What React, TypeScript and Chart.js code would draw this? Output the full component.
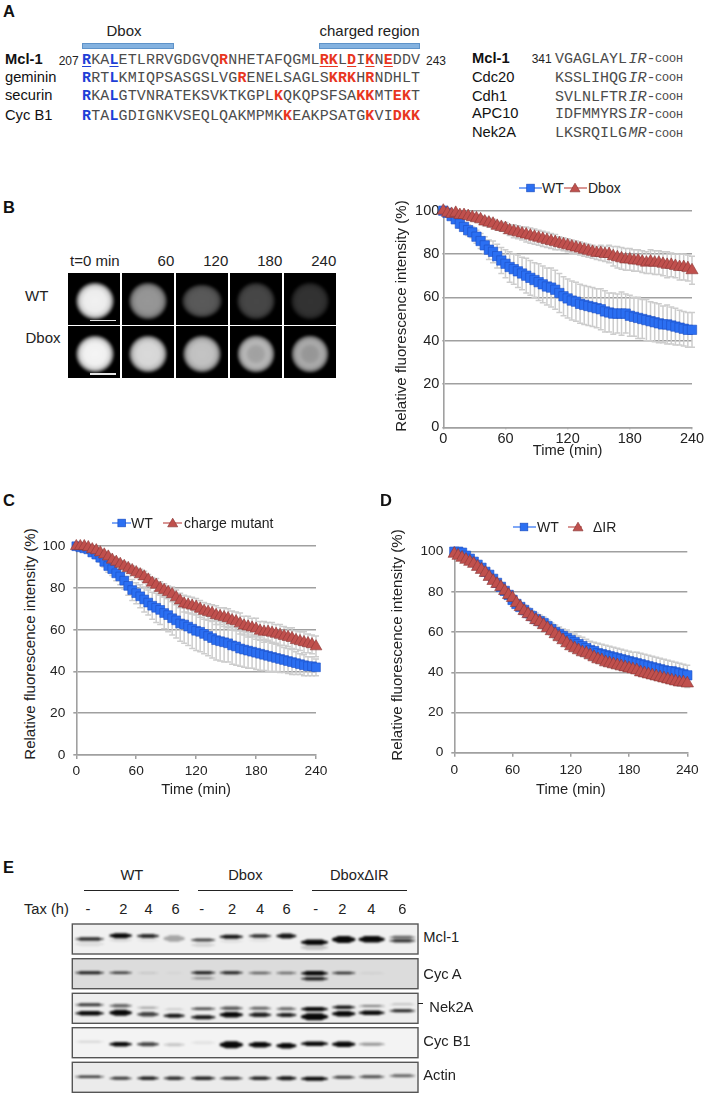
import React, { useEffect, useRef } from "react";
import { Chart, registerables } from "chart.js";

Chart.register(...registerables);

// ---------- time-course data (minutes, percent) ----------
const timeMin = [
  0, 4, 8, 12, 16, 20, 24, 28, 32, 36, 40, 44, 48, 52, 56, 60, 64, 68, 72, 76,
  80, 84, 88, 92, 96, 100, 104, 108, 112, 116, 120, 124, 128, 132, 136, 140, 144, 148, 152, 156,
  160, 164, 168, 172, 176, 180, 184, 188, 192, 196, 200, 204, 208, 212, 216, 220, 224, 228, 232, 236, 240,
];
const xTickValues = [0, 60, 120, 180, 240];
const yTickValues = [0, 20, 40, 60, 80, 100];

const bWT = [
  100, 99, 97.5, 96, 94, 92.5, 91, 90, 88, 86,
  84, 82, 81, 79, 77, 75.5, 74, 73, 72, 71,
  70, 69, 68, 67, 66, 65, 64.5, 63.5, 62, 60.5,
  59.5, 58.5, 58, 57, 56.5, 56, 55.5, 55, 54.5, 53.5,
  53, 52.5, 52.5, 52.5, 52.5, 51.5, 51, 50.5, 50, 49.5,
  49, 48.5, 48, 47.5, 47.5, 47, 46.5, 46, 45.5, 45,
  45,
];
const bWTErr = [
  0, 1, 1, 1.5, 2, 2, 2.5, 2.5, 3, 3.5,
  4, 4.5, 5, 5.5, 6, 6.5, 7, 7, 7.5, 7.5,
  8, 8, 8, 8.5, 8.5, 8.5, 9, 9, 9, 9,
  9, 9, 9, 9, 9, 9, 9, 9, 9.5, 9.5,
  9, 9.5, 9, 10, 9, 9.5, 9, 9.5, 9, 9.5,
  9, 9, 9, 8.5, 9, 8.5, 8.5, 8, 8, 8,
  8,
];
const bDbox = [
  100, 99, 98.5, 99, 98, 98, 97.5, 97, 96.5, 96,
  95, 94.5, 94, 93, 92.5, 92, 91, 90.5, 90, 89.5,
  89, 88.5, 88, 87.5, 87, 86.5, 86, 85.5, 85, 84.5,
  84, 83.5, 83, 82.5, 82, 81.5, 81, 80.5, 80.5, 80,
  80, 79, 78.5, 78, 77.5, 77.5, 77, 77, 76.5, 76,
  76.5, 76, 76, 75.5, 75, 75, 74.5, 74, 74, 73.5,
  72.5,
];
const bDboxErr = [
  0, 0.5, 1, 1, 1, 1, 1.5, 1.5, 1.5, 1.5,
  2, 2, 2, 2, 2, 2.5, 2.5, 3, 3, 3,
  3.5, 3.5, 3.5, 3.5, 3.5, 3.5, 3.5, 3.5, 3, 3,
  3, 3, 3, 3, 3, 3, 3, 3, 3.5, 3.5,
  4, 4.5, 5, 5, 5, 5, 5, 5, 5, 5,
  5.5, 5.5, 5.5, 5.5, 6, 5.5, 5.5, 6, 6, 6,
  6.5,
];
const cWT = [
  100, 99.5, 99, 98.5, 97, 96, 94.5, 92.5, 90.5, 89,
  87, 85.5, 83.5, 81, 79, 77.5, 76, 74.5, 73, 71.5,
  70.5, 69.5, 68, 67, 65.5, 64.5, 63, 62.5, 61.5, 60.5,
  59.5, 59, 58, 57, 56, 55, 54.5, 54, 53.5, 52.5,
  52, 51, 50.5, 50, 49.5, 49, 48.5, 48, 47.5, 47,
  46.5, 46, 45.5, 45, 44.5, 44, 43.5, 43, 42.5, 42.5,
  42,
];
const cWTErr = [
  0, 0.5, 1, 1, 1.5, 2, 2, 2.5, 3, 3,
  3.5, 4, 4, 4.5, 5, 5, 5.5, 6, 6, 6.5,
  7, 7, 7.5, 8, 8, 8.5, 8.5, 9, 9, 9.5,
  9.5, 9.5, 9.5, 9.5, 9.5, 9.5, 9.5, 9.5, 9, 9,
  9, 8.5, 8.5, 8.5, 8, 8, 8, 7.5, 7.5, 7,
  6.5, 6.5, 6, 6, 6, 5.5, 5, 5, 4.5, 4.5,
  4,
];
const cCharge = [
  100, 100, 100, 99.5, 98.5, 98, 97, 96, 95, 93.5,
  92.5, 91.5, 90.5, 89.5, 88.5, 87.5, 86.5, 85.5, 84, 82.5,
  81.5, 80, 79, 78, 77, 75.5, 74, 72.5, 72, 71.5,
  71, 70, 69, 68.5, 68, 67, 66.5, 66, 65.5, 64.5,
  64, 63, 62, 61.5, 61, 60.5, 59.5, 59, 59, 58.5,
  58, 57.5, 57, 56.5, 56, 55, 54.5, 54, 53.5, 53,
  52,
];
const cChargeErr = [
  0, 0.5, 0.5, 1, 1, 1, 1, 1, 1.5, 1.5,
  1.5, 1.5, 2, 2, 2, 2, 2.5, 2.5, 2.5, 2.5,
  3, 3, 3, 3, 3.5, 3.5, 3.5, 4, 4, 4,
  4, 4, 4, 4, 4, 4.5, 4, 4.5, 4.5, 4.5,
  4.5, 5, 4.5, 5, 4.5, 5, 4.5, 5, 4.5, 5,
  4.5, 5, 4.5, 4.5, 5, 4.5, 4.5, 5, 4.5, 4.5,
  5,
];
const dWT = [
  100, 100, 99.5, 98, 96.5, 95, 93.5, 92, 90, 88.5,
  86.5, 84.5, 82.5, 80.5, 78.5, 76, 74, 72.5, 71, 69.5,
  68, 66.5, 65.5, 64.5, 63, 61.5, 60, 59, 58, 57,
  56, 55, 54, 53, 52, 51, 50.5, 49.5, 49, 48.5,
  48, 47.5, 47, 46.5, 46, 45.5, 45, 44.5, 44, 43.5,
  43, 42.5, 42, 41.5, 41, 40.5, 40.5, 40, 39.5, 39,
  38.5,
];
const dWTErr = [
  0, 0.5, 0.5, 1, 1, 1, 1, 1.5, 1.5, 1.5,
  1.5, 1.5, 2, 2, 2, 2, 2, 2, 2.5, 2.5,
  2.5, 3, 3, 3, 3, 3, 3.5, 3.5, 3.5, 4,
  4, 4, 4, 4.5, 4.5, 4.5, 4.5, 5, 5, 5,
  5, 5, 5, 5, 5, 5, 5, 5.5, 5.5, 5.5,
  5.5, 5.5, 5.5, 5.5, 5.5, 5.5, 5, 5, 5, 5,
  5,
];
const dIR = [
  99, 98, 97, 96, 95, 94, 92.5, 91, 89.5, 87.5,
  85.5, 84, 82.5, 80.5, 78.5, 77, 74.5, 72.5, 70.5, 69,
  67.5, 66, 65, 63.5, 62, 60.5, 59, 57.5, 56, 54.5,
  53, 52, 51, 50, 49.5, 48.5, 47.5, 46.5, 46, 45,
  44.5, 44, 43.5, 43, 42.5, 42, 41.5, 41, 40, 39.5,
  39, 38.5, 38, 37.5, 37, 36.5, 36, 35.5, 35, 35,
  34.5,
];
const dIRErr = [
  0, 0.5, 0.5, 0.5, 1, 1, 1, 1, 1, 1,
  1, 1, 1.5, 1.5, 1.5, 1.5, 1.5, 1.5, 1.5, 1.5,
  1.5, 1.5, 1.5, 1.5, 1.5, 2, 2, 2, 2, 2,
  2, 2, 2, 2, 2, 2, 2, 2, 2, 2,
  2, 2, 2, 2, 2, 2, 2, 2, 2, 2,
  2, 2, 2, 2, 2, 2, 2, 2, 2, 2,
  2,
];

// ---------- sequences ----------
const dboxRows = [
  { name: "Mcl-1", bold: true, seq: "RKALETLRRVGDGVQRNHETAFQGMLRKLDIKNEDDV", blue: [0, 3], red: [15, 26, 27, 29, 31, 33], under: [0, 3, 26, 27, 29, 31, 33] },
  { name: "geminin", bold: false, seq: "RRTLKMIQPSASGSLVGRENELSAGLSKRKHRNDHLT", blue: [0, 3], red: [17, 27, 28, 29, 31], under: [] },
  { name: "securin", bold: false, seq: "RKALGTVNRATEKSVKTKGPLKQKQPSFSAKKMTEKT", blue: [0, 3], red: [21, 30, 31, 34, 35], under: [] },
  { name: "Cyc B1", bold: false, seq: "RTALGDIGNKVSEQLQAKMPMKKEAKPSATGKVIDKK", blue: [0, 3], red: [22, 31, 34, 35, 36], under: [] },
];
const irRows = [
  { name: "Mcl-1", bold: true, seq: "VGAGLAYL", tail: "IR" },
  { name: "Cdc20", bold: false, seq: "KSSLIHQG", tail: "IR" },
  { name: "Cdh1", bold: false, seq: "SVLNLFTR", tail: "IR" },
  { name: "APC10", bold: false, seq: "IDFMMYRS", tail: "IR" },
  { name: "Nek2A", bold: false, seq: "LKSRQILG", tail: "MR" },
];

// ---------- microscopy panel ----------
const frameLabels = ["t=0 min", "60", "120", "180", "240"];
const wtFrames = [236, 148, 88, 70, 50];
const dboxFrames = [240, 214, 192, 172, 160];

// ---------- western blot: bands per lane as [migration, thickness, density] ----------
const laneStart = [75, 109, 136.7, 163.3, 190.7, 219.3, 248.3, 276, 300.7, 331.7, 358.3, 389];
const laneEnd = [104.3, 132.3, 159.3, 185, 215.7, 243.3, 271.7, 296.7, 328.3, 355.7, 385, 415.7];
type Band = [number, number, number];
const mcl1Bands: Band[][] = [
  [[15, 3, 0.85], [20, 4, 0.08]], [[11.7, 4.5, 1], [16, 3, 0.1]], [[12, 3.5, 0.85], [16, 3, 0.06]], [[14.5, 6, 0.32]],
  [[16, 2.8, 0.75], [21, 3, 0.12]], [[12.7, 3.5, 0.95], [17, 3, 0.07]], [[12, 3, 0.85], [16, 3, 0.06]], [[12, 4.5, 0.95]],
  [[18.3, 5, 1], [23.5, 4, 0.2]], [[15.5, 6.5, 1]], [[15.3, 6, 1]], [[13.3, 2.5, 0.6], [16.8, 3, 0.8]],
];
const cycABands: Band[][] = [
  [[14, 2.5, 0.9]], [[14, 2, 0.78]], [[14.3, 1.5, 0.1]], [[14.3, 1, 0.05]],
  [[14, 2.5, 0.95], [19.5, 1.5, 0.42]], [[14, 2.5, 0.9]], [[14.3, 2, 0.6]], [[14.3, 2, 0.55]],
  [[14.6, 4, 1], [20, 3, 0.9]], [[14.3, 2, 0.85]], [[14.5, 1, 0.08]], [],
];
const nek2ABands: Band[][] = [
  [[11.5, 2.5, 0.8], [20, 4, 1]], [[12.5, 3, 0.6], [19.5, 5.5, 1]], [[14.5, 1.5, 0.35], [21, 4, 0.75]], [[16, 1, 0.2], [22.5, 3.5, 0.95]],
  [[15.5, 2, 0.75], [24, 3.5, 0.95]], [[15, 3, 0.65], [21.5, 5, 1]], [[15, 2.5, 0.6], [21.5, 4, 0.9]], [[15.5, 2.5, 0.6], [21.7, 3.5, 0.9]],
  [[15.8, 4, 1], [23.5, 6.5, 1]], [[14, 3, 0.95], [20.5, 5, 1]], [[12.7, 1.5, 0.5], [19.5, 4, 1]], [[11, 1, 0.25], [17.5, 2.5, 0.9]],
];
const cycB1Bands: Band[][] = [
  [[14, 1.5, 0.12]], [[16.5, 4, 1]], [[16.5, 3.5, 0.75]], [[17, 2.5, 0.2]],
  [[15, 2.5, 0.07]], [[17, 6.5, 1]], [[17, 5, 1]], [[18, 5, 1]],
  [[16, 4, 1]], [[16.5, 5, 1]], [[16.5, 2.5, 0.4]], [],
];
const actinBands: Band[][] = [
  [[14.5, 2, 0.8]], [[16, 2.5, 0.8]], [[16, 3, 0.9]], [[16, 3, 0.85]],
  [[16, 3, 0.9]], [[16, 2.5, 0.85]], [[16, 3, 0.9]], [[16, 3.5, 0.95]],
  [[16.5, 3.5, 1]], [[15, 2.5, 0.75]], [[14.5, 2.5, 0.7]], [[13.5, 2.5, 0.6]],
];
const blotNames = ["Mcl-1", "Cyc A", "Nek2A", "Cyc B1", "Actin"];
const blotBands = [mcl1Bands, cycABands, nek2ABands, cycB1Bands, actinBands];
const blotTops = [924, 958.7, 993.3, 1027.7, 1062.3];
const blotShades = ["#f0f0f0", "#dcdcdc", "#eeeeee", "#f3f3f3", "#ebebeb"];
const blotLabelX = [423.3, 423.3, 429.3, 423.3, 423.3];
const blotLabelBase = [942.7, 979, 1012.7, 1046.7, 1080.7];
const taxLabels = ["-", "2", "4", "6", "-", "2", "4", "6", "-", "2", "4", "6"];
const taxCentres = [88, 123.3, 148.7, 175.7, 201.7, 232, 260, 286.7, 315.7, 342.3, 371.3, 402.3];
const groupLabels = ["WT", "Dbox", "DboxΔIR"];
const groupStart = [84, 198, 312];
const groupEnd = [178.7, 292.7, 406.7];

// ---------- styling ----------
const SANS = '"Liberation Sans", Arial, sans-serif';
const MONO = '"Liberation Mono", "Courier New", monospace';
const BLUE = "#2b6ff2";
const BLUE_EDGE = "#1c4fc4";
const RED = "#c0504d";
const RED_EDGE = "#8c3836";
const GRID = "#a0a0a0";
const TEXT = "#222222";

const errorBars = {
  id: "errorBars",
  beforeDatasetsDraw(chart: any) {
    const { ctx, scales } = chart;
    ctx.save();
    ctx.strokeStyle = "#cdcdcd";
    ctx.lineWidth = 1.5;
    chart.data.datasets.forEach((ds: any) => {
      ds.data.forEach((p: any, i: number) => {
        const e = ds.err[i];
        if (!e) return;
        const x = scales.x.getPixelForValue(p.x);
        const hi = scales.y.getPixelForValue(p.y + e);
        const lo = scales.y.getPixelForValue(p.y - e);
        ctx.beginPath();
        ctx.moveTo(x, hi);
        ctx.lineTo(x, lo);
        ctx.moveTo(x - 3, hi);
        ctx.lineTo(x + 3, hi);
        ctx.moveTo(x - 3, lo);
        ctx.lineTo(x + 3, lo);
        ctx.stroke();
      });
    });
    ctx.restore();
  },
};

const blotPlugin = {
  id: "blotPlugin",
  beforeDatasetsDraw(chart: any) {
    const { ctx, scales } = chart;
    const sx = scales.x;
    const sy = scales.y;
    chart.data.datasets.forEach((ds: any) => {
      const left = sx.getPixelForValue(72.3);
      const right = sx.getPixelForValue(418);
      const top = sy.getPixelForValue(ds.rowTop);
      const bottom = sy.getPixelForValue(ds.rowTop + 30);
      ctx.save();
      ctx.fillStyle = ds.shade;
      ctx.fillRect(left, top, right - left, bottom - top);
      ctx.beginPath();
      ctx.rect(left, top, right - left, bottom - top);
      ctx.clip();
      ctx.filter = "blur(0.9px)";
      ds.data.forEach((b: any) => {
        const x0 = sx.getPixelForValue(b.x);
        const x1 = sx.getPixelForValue(b.x1);
        const h = b.t;
        const yc = sy.getPixelForValue(b.y);
        ctx.fillStyle = `rgba(8,8,8,${b.a})`;
        ctx.beginPath();
        ctx.ellipse((x0 + x1) / 2, yc, (x1 - x0) / 2, h / 2, 0, 0, Math.PI * 2);
        ctx.closePath();
        ctx.roundRect(x0 + 4, yc - h / 2 - 0.2, x1 - x0 - 8, h + 0.4, h / 2);
        ctx.fill();
      });
      ctx.restore();
      ctx.save();
      ctx.strokeStyle = "#555555";
      ctx.lineWidth = 1.4;
      ctx.strokeRect(left, top, right - left, bottom - top);
      ctx.restore();
    });
  },
};

type ChartSpec = {
  left: number; top: number; width: number; height: number;
  areaLeft: number; areaTop: number; areaRight: number; areaBottom: number;
  s1: { label: string; values: number[]; err: number[] };
  s2: { label: string; values: number[]; err: number[] };
  yTick: number; yPad: number; xTick: number; xPad: number; triR: number; sqR: number; tickSize: number;
};

function CurveChart({ spec }: { spec: ChartSpec }) {
  const ref = useRef<HTMLCanvasElement | null>(null);
  useEffect(() => {
    const toPts = (v: number[]) => v.map((y, i) => ({ x: timeMin[i], y }));
    const chart = new Chart(ref.current as HTMLCanvasElement, {
      type: "line",
      data: {
        datasets: [
          {
            label: spec.s1.label, data: toPts(spec.s1.values), err: spec.s1.err, order: 1,
            borderColor: BLUE, backgroundColor: BLUE, borderWidth: 1,
            pointStyle: "rect", pointRadius: spec.sqR, pointBackgroundColor: BLUE, pointBorderColor: BLUE_EDGE, pointBorderWidth: 0.6,
            clip: false,
          },
          {
            label: spec.s2.label, data: toPts(spec.s2.values), err: spec.s2.err, order: 0,
            borderColor: RED, backgroundColor: RED, borderWidth: 1,
            pointStyle: "triangle", pointRadius: spec.triR, pointBackgroundColor: RED, pointBorderColor: RED_EDGE, pointBorderWidth: 0.6,
            clip: false,
          },
        ] as any,
      },
      options: {
        animation: false, responsive: false,
        layout: { padding: { left: 0, top: spec.areaTop - spec.top, right: spec.left + spec.width - spec.areaRight, bottom: 0 } },
        plugins: { legend: { display: false }, tooltip: { enabled: false }, title: { display: false } },
        scales: {
          x: {
            type: "linear", min: 0, max: 240,
            afterBuildTicks: (s: any) => { s.ticks = xTickValues.map((value) => ({ value })); },
            afterFit: (s: any) => { s.height = spec.top + spec.height - spec.areaBottom; },
            grid: { drawOnChartArea: false, drawTicks: true, tickLength: spec.xTick, color: GRID, lineWidth: 1.5 },
            border: { display: true, color: GRID, width: 1.6 },
            ticks: { maxRotation: 0, padding: spec.xPad, color: TEXT, font: { family: SANS, size: spec.tickSize } },
            title: { display: true, text: "Time (min)", color: TEXT, padding: 0, font: { family: SANS, size: 14.7, lineHeight: 1.2 } },
          },
          y: {
            type: "linear", min: 0, max: 100,
            afterBuildTicks: (s: any) => { s.ticks = yTickValues.map((value) => ({ value })); },
            afterFit: (s: any) => { s.width = spec.areaLeft - spec.left; },
            grid: { drawOnChartArea: true, drawTicks: true, tickLength: spec.yTick, color: GRID, lineWidth: 1.6 },
            border: { display: true, color: GRID, width: 1.6 },
            ticks: { padding: spec.yPad, color: TEXT, font: { family: SANS, size: spec.tickSize } },
          },
        },
      } as any,
      plugins: [errorBars],
    });
    return () => chart.destroy();
  }, [spec]);
  return (
    <canvas
      ref={ref}
      width={spec.width}
      height={spec.height}
      style={{ position: "absolute", left: spec.left, top: spec.top, width: spec.width, height: spec.height }}
    />
  );
}

function BlotChart() {
  const ref = useRef<HTMLCanvasElement | null>(null);
  useEffect(() => {
    const datasets = blotBands.map((lanes, row) => ({
      label: blotNames[row],
      rowTop: blotTops[row],
      shade: blotShades[row],
      pointRadius: 0,
      showLine: false,
      data: lanes.flatMap((bands, lane) =>
        bands.map(([m, t, a]) => ({ x: laneStart[lane], x1: laneEnd[lane], y: blotTops[row] + m, t, a }))
      ),
    }));
    const chart = new Chart(ref.current as HTMLCanvasElement, {
      type: "scatter",
      data: { datasets } as any,
      options: {
        animation: false, responsive: false,
        layout: { padding: 0 },
        plugins: { legend: { display: false }, tooltip: { enabled: false } },
        scales: {
          x: { type: "linear", display: false, min: 70, max: 420 },
          y: { type: "linear", display: false, min: 922, max: 1093, reverse: true },
        },
      } as any,
      plugins: [blotPlugin],
    });
    return () => chart.destroy();
  }, []);
  return <canvas ref={ref} width={350} height={171} style={{ position: "absolute", left: 70, top: 922, width: 350, height: 171 }} />;
}

function T(props: { x: number; base: number; size: number; children: any; bold?: boolean; align?: "l" | "c" | "r"; color?: string; font?: string; italic?: boolean }) {
  const { x, base, size, bold, align = "l", color = TEXT, font = SANS, italic } = props;
  const asc = font === MONO ? 0.7665 : 0.8465;
  return (
    <div
      style={{
        position: "absolute", left: x, top: base - asc * size, fontFamily: font, fontSize: size, lineHeight: 1,
        fontWeight: bold ? 700 : 400, fontStyle: italic ? "italic" : "normal", color, whiteSpace: "pre",
        transform: align === "c" ? "translateX(-50%)" : align === "r" ? "translateX(-100%)" : undefined,
      }}
    >
      {props.children}
    </div>
  );
}

function YTitle({ x, y }: { x: number; y: number }) {
  return (
    <div
      style={{
        position: "absolute", left: x, top: y, fontFamily: SANS, fontSize: 15.1, lineHeight: 1, color: TEXT, whiteSpace: "pre",
        transform: "translate(-50%,-50%) rotate(-90deg)",
      }}
    >
      Relative fluorescence intensity (%)
    </div>
  );
}

function LegendKey({ x0, x1, mx, y, kind }: { x0: number; x1: number; mx: number; y: number; kind: "sq" | "tri" }) {
  return (
    <svg style={{ position: "absolute", left: 0, top: y - 8, overflow: "visible" }} width={1} height={16}>
      <line x1={x0} x2={x1} y1={8} y2={8} stroke={kind === "sq" ? BLUE : RED} strokeWidth={1.2} />
      {kind === "sq" ? (
        <rect x={mx - 3.8} y={4.2} width={7.6} height={7.6} fill={BLUE} stroke={BLUE_EDGE} strokeWidth={0.7} />
      ) : (
        <polygon points={`${mx - 5},11.8 ${mx + 5},11.8 ${mx},3.2`} fill={RED} stroke={RED_EDGE} strokeWidth={0.7} />
      )}
    </svg>
  );
}

function SeqLine({ row, x, base }: { row: (typeof dboxRows)[number]; x: number; base: number }) {
  return (
    <div style={{ position: "absolute", left: x, top: base - 0.7665 * 15, fontFamily: MONO, fontSize: 15, lineHeight: 1, letterSpacing: 0.13, whiteSpace: "pre", color: "#4c4c4c" }}>
      {row.seq.split("").map((c, i) => {
        const blue = row.blue.includes(i);
        const red = row.red.includes(i);
        return (
          <span
            key={i}
            style={{
              color: blue ? "#1f3fd6" : red ? "#e8361f" : undefined,
              fontWeight: blue || red ? 700 : 400,
              textDecoration: row.under.includes(i) ? "underline" : "none",
              textUnderlineOffset: 2,
            }}
          >
            {c}
          </span>
        );
      })}
    </div>
  );
}

function CellFrame({ left, top, level, row, col }: { left: number; top: number; level: number; row: number; col: number }) {
  const g = (k: number) => {
    const v = Math.min(255, Math.round(level * k));
    return `rgb(${v},${v},${v})`;
  };
  const ring = row === 1 && col >= 3;
  const wide = row === 0 && col === 2;
  const bg = ring
    ? `radial-gradient(ellipse 19.5px 19.5px at 50% 50%, ${g(0.93)} 0%, ${g(0.95)} 35%, ${g(1.07)} 58%, ${g(0.98)} 76%, ${g(0.55)} 90%, #000 100%)`
    : `radial-gradient(ellipse ${wide ? 21 : 20}px ${wide ? 17.5 : 19.5}px at 50% 50%, ${g(1.02)} 0%, ${g(1)} 55%, ${g(0.88)} 76%, ${g(0.45)} 90%, #000 100%)`;
  const shift = col === 0 ? 1 : 0;
  return (
    <div style={{ position: "absolute", left, top, width: 52, height: 52, background: "#000", overflow: "hidden" }}>
      <div style={{ position: "absolute", left: -6 + shift, top: -4, width: 64, height: 64, background: bg, filter: "blur(0.8px)" }} />
      {col === 0 ? <div style={{ position: "absolute", left: 22, top: 47, width: 26, height: 1.6, background: "#e6e6e6" }} /> : null}
    </div>
  );
}

const specB: ChartSpec = {
  left: 405, top: 198, width: 304, height: 262, areaLeft: 443.3, areaTop: 210.7, areaRight: 692, areaBottom: 427.3,
  s1: { label: "WT", values: bWT, err: bWTErr }, s2: { label: "Dbox", values: bDbox, err: bDboxErr },
  yTick: 1, yPad: 3, xTick: 2, xPad: 1, triR: 7, sqR: 6.6, tickSize: 14.5,
};
const specC: ChartSpec = {
  left: 40, top: 530, width: 300, height: 269, areaLeft: 76.3, areaTop: 546, areaRight: 316, areaBottom: 755,
  s1: { label: "WT", values: cWT, err: cWTErr }, s2: { label: "charge mutant", values: cCharge, err: cChargeErr },
  yTick: 3, yPad: 8, xTick: 4, xPad: 4, triR: 6.8, sqR: 6.2, tickSize: 13.7,
};
const specD: ChartSpec = {
  left: 415, top: 535, width: 294, height: 264, areaLeft: 454.3, areaTop: 551.7, areaRight: 687.3, areaBottom: 752.7,
  s1: { label: "WT", values: dWT, err: dWTErr }, s2: { label: "ΔIR", values: dIR, err: dIRErr },
  yTick: 3, yPad: 8, xTick: 4, xPad: 5, triR: 7.2, sqR: 6.6, tickSize: 13.7,
};

const cellCols = [68.3, 122.3, 176.3, 230.3, 284.3];
const seqBases = [64.7, 82.7, 100.7, 120];
const irBases = [63, 82, 101, 118.5, 137.5];

export default function App() {
  useEffect(() => {
    document.body.style.margin = "0";
    document.body.style.background = "#fff";
  }, []);
  return (
    <div style={{ position: "absolute", left: 0, top: 0, width: 709, height: 1093, overflow: "hidden", background: "#fff", filter: "blur(0.35px)" }}>
      {/* Panel A */}
      <T x={3} base={17} size={16.5} bold color="#111">A</T>
      <T x={124} base={36} size={15} align="c">Dbox</T>
      <T x={369.5} base={36} size={15} align="c">charged region</T>
      <div style={{ position: "absolute", left: 81.7, top: 42.7, width: 92, height: 6.6, boxSizing: "border-box", background: "#84b2e0", border: "1px solid #5f93c9" }} />
      <div style={{ position: "absolute", left: 319, top: 42.7, width: 101, height: 6.6, boxSizing: "border-box", background: "#84b2e0", border: "1px solid #5f93c9" }} />
      {dboxRows.map((r, i) => (
        <React.Fragment key={r.name}>
          <T x={5} base={seqBases[i]} size={14.7} bold={r.bold} color="#111">{r.name}</T>
          <SeqLine row={r} x={82} base={seqBases[i]} />
        </React.Fragment>
      ))}
      <T x={58.7} base={64.7} size={12}>207</T>
      <T x={426} base={64.7} size={12}>243</T>
      {irRows.map((r, i) => (
        <React.Fragment key={"ir" + r.name}>
          <T x={472} base={irBases[i]} size={14.7} bold={r.bold} color="#111">{r.name}</T>
          <T x={555} base={irBases[i]} size={15} font={MONO} color="#4c4c4c">{r.seq}</T>
          <T x={628.6} base={irBases[i]} size={15} font={MONO} color="#4c4c4c" italic>{r.tail}</T>
          <T x={646.5} base={irBases[i]} size={15} font={MONO} color="#4c4c4c">-</T>
          <T x={655} base={irBases[i]} size={11.7} font={MONO} color="#4c4c4c">COOH</T>
        </React.Fragment>
      ))}
      <T x={531.7} base={63} size={12}>341</T>

      {/* Panel B */}
      <T x={3} base={212.7} size={16.5} bold color="#111">B</T>
      {frameLabels.map((l, i) => (
        <T key={l} x={i === 0 ? 70 : cellCols[i] + 52} base={266} size={15} align={i === 0 ? "l" : "r"}>{l}</T>
      ))}
      <T x={25} base={301} size={15}>WT</T>
      <T x={25.5} base={343} size={15}>Dbox</T>
      {wtFrames.map((v, i) => <CellFrame key={"w" + i} left={cellCols[i]} top={272.7} level={v} row={0} col={i} />)}
      {dboxFrames.map((v, i) => <CellFrame key={"d" + i} left={cellCols[i]} top={326} level={v} row={1} col={i} />)}
      <CurveChart spec={specB} />
      <YTitle x={400.7} y={316} />
      <LegendKey x0={519} x1={542} mx={530.5} y={188} kind="sq" />
      <T x={542} base={193} size={14}>WT</T>
      <LegendKey x0={564} x1={587} mx={575} y={188} kind="tri" />
      <T x={588} base={193} size={14}>Dbox</T>

      {/* Panel C */}
      <T x={3} base={506} size={16.5} bold color="#111">C</T>
      <CurveChart spec={specC} />
      <YTitle x={30} y={643.5} />
      <LegendKey x0={112} x1={131} mx={121.7} y={523} kind="sq" />
      <T x={131} base={528} size={14}>WT</T>
      <LegendKey x0={163} x1={182} mx={172.7} y={523} kind="tri" />
      <T x={184} base={528} size={14}>charge mutant</T>

      {/* Panel D */}
      <T x={380} base={506} size={16.5} bold color="#111">D</T>
      <CurveChart spec={specD} />
      <YTitle x={397.3} y={645} />
      <LegendKey x0={513} x1={536} mx={524} y={526.7} kind="sq" />
      <T x={537} base={531.7} size={14}>WT</T>
      <LegendKey x0={568} x1={582} mx={578} y={526.7} kind="tri" />
      <T x={593} base={531.7} size={14}>ΔIR</T>

      {/* Panel E */}
      <T x={3} base={872.7} size={16.5} bold color="#111">E</T>
      {groupLabels.map((g, i) => (
        <React.Fragment key={g}>
          <T x={(groupStart[i] + groupEnd[i]) / 2 + (i === 0 ? 0.5 : 0)} base={880} size={14.7} align="c">{g}</T>
          <div style={{ position: "absolute", left: groupStart[i], top: 890.2, width: groupEnd[i] - groupStart[i], height: 1, background: "#222" }} />
        </React.Fragment>
      ))}
      <T x={24} base={914} size={14.7}>Tax (h)</T>
      {taxLabels.map((l, i) => (
        <T key={i} x={taxCentres[i]} base={914} size={14.7} align="c">{l}</T>
      ))}
      <BlotChart />
      {blotNames.map((n, i) => (
        <T key={n} x={blotLabelX[i]} base={blotLabelBase[i]} size={14.7}>{n}</T>
      ))}
      <div style={{ position: "absolute", left: 418, top: 1003.2, width: 4.5, height: 1.2, background: "#222" }} />
    </div>
  );
}
